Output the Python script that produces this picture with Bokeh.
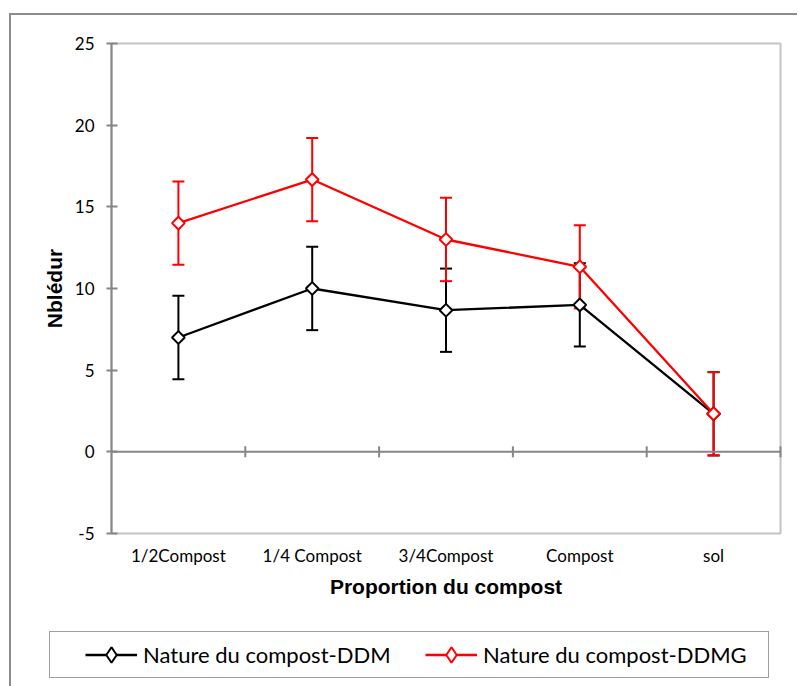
import math

from bokeh.plotting import figure
from bokeh.models import (Range1d, FixedTicker, Whisker, TeeHead,
                          ColumnDataSource, Legend, LegendItem)
from bokeh.embed import file_html
from bokeh.resources import INLINE

# ---- data -------------------------------------------------------------
categories = ["1/2Compost", "1/4 Compost", "3/4Compost", "Compost", "sol"]

ddm_mean = [7.0, 10.0, 8.67, 9.0, 2.33]
ddm_err = [2.55, 2.55, 2.55, 2.55, 2.55]

ddmg_mean = [14.0, 16.67, 13.0, 11.33, 2.33]
ddmg_err = [2.55, 2.55, 2.55, 2.55, 2.55]

series_labels = ["Nature du compost-DDM", "Nature du compost-DDMG"]
y_ticks = [-5, 0, 5, 10, 15, 20, 25]

# ---- styles / geometry -------------------------------------------------
TICK_FONT = "Lato"
TITLE_FONT = "Liberation Sans"
AXIS_GREY = "#868686"
FRAME_GREY = "#c4c4c4"

W, H = 786, 671                      # drawing surface
AREA_LEFT, AREA_TOP = 100, 28        # plot area offset inside the surface
AREA_W, AREA_H = 669, 490            # plot area size

n = len(categories)
ymin, ymax = y_ticks[0], y_ticks[-1]
xs = [i + 0.5 for i in range(n)]          # category centres
bounds = [i + 1 for i in range(n)]        # category boundaries

# ranges chosen so that [0, n] x [ymin, ymax] maps onto the plot area
px_x = AREA_W / n
px_y = AREA_H / (ymax - ymin)
x_range = Range1d(-AREA_LEFT / px_x, (W - AREA_LEFT) / px_x)
y_range = Range1d(ymax - (H - AREA_TOP) / px_y, ymax + AREA_TOP / px_y)

p = figure(
    frame_width=W, frame_height=H,
    min_border_left=0, min_border_right=0, min_border_top=0, min_border_bottom=0,
    x_range=x_range, y_range=y_range,
    output_backend="svg", toolbar_location=None,
    background_fill_color="white", border_fill_color="white",
)
p.margin = (13, 0, 0, 9)
p.styles = {"border-left": "2px solid #8c8c8c", "border-top": "2px solid #8c8c8c"}
p.grid.visible = False
p.outline_line_color = None

# plot area border
p.quad(left=[0], right=[n], bottom=[ymin], top=[ymax],
       fill_color=None, line_color=FRAME_GREY, line_width=2)

# y axis at x = 0
ya = p.yaxis[0]
ya.fixed_location = 0
ya.bounds = (ymin, ymax)
ya.ticker = FixedTicker(ticks=y_ticks)
ya.major_label_overrides = {t: str(t) for t in y_ticks}
ya.axis_line_color = AXIS_GREY
ya.axis_line_width = 2
ya.major_tick_line_color = AXIS_GREY
ya.major_tick_line_width = 2
ya.major_tick_in = 6
ya.major_tick_out = 5
ya.minor_tick_line_color = None
ya.major_label_text_font = TICK_FONT
ya.major_label_text_font_size = "17px"
ya.major_label_text_color = "black"
ya.major_label_standoff = 12
ya.axis_label = "Nblédur"
ya.axis_label_text_font = TITLE_FONT
ya.axis_label_text_font_style = "bold"
ya.axis_label_text_font_size = "21px"
ya.axis_label_text_color = "black"
ya.axis_label_standoff = 6

# category labels along the bottom of the plot area
xa = p.xaxis[0]
xa.fixed_location = ymin
xa.bounds = (0, n)
xa.ticker = FixedTicker(ticks=xs)
xa.major_label_overrides = {x: c for x, c in zip(xs, categories)}
xa.axis_line_color = None
xa.major_tick_line_color = None
xa.minor_tick_line_color = None
xa.major_label_text_font = TICK_FONT
xa.major_label_text_font_size = "17px"
xa.major_label_text_color = "black"
xa.major_label_standoff = 5
xa.axis_label = "Proportion du compost"
xa.axis_label_text_font = TITLE_FONT
xa.axis_label_text_font_style = "bold"
xa.axis_label_text_font_size = "21px"
xa.axis_label_text_color = "black"
xa.axis_label_standoff = 6

# horizontal axis line at zero with category boundary ticks
p.segment(x0=[0], y0=[0], x1=[n], y1=[0], line_color=AXIS_GREY, line_width=2)
half_tick = 5.5 / px_y
p.segment(x0=bounds, y0=[-half_tick] * n, x1=bounds, y1=[half_tick] * n,
          line_color=AXIS_GREY, line_width=2)


def add_series(mean, err, color):
    src = ColumnDataSource(dict(
        x=xs, y=mean,
        upper=[m + e for m, e in zip(mean, err)],
        lower=[m - e for m, e in zip(mean, err)],
    ))
    w = Whisker(source=src, base="x", upper="upper", lower="lower",
                line_color=color, line_width=2,
                upper_head=TeeHead(size=12, line_color=color, line_width=2),
                lower_head=TeeHead(size=12, line_color=color, line_width=2))
    p.add_layout(w)
    ln = p.line("x", "y", source=src, line_color=color, line_width=2.3)
    # small diamond kept under the point markers; it provides the legend swatch
    key = p.scatter("x", "y", source=src, marker="diamond", size=7,
                    fill_color="white", line_color=color, line_width=2)
    p.scatter("x", "y", source=src, marker="square", angle=math.pi / 4, size=9,
              fill_color="white", line_color=color, line_width=2)
    return [ln, key]


r_ddm = add_series(ddm_mean, ddm_err, "black")
r_ddmg = add_series(ddmg_mean, ddmg_err, "#ff0000")

legend = Legend(
    items=[LegendItem(label=series_labels[0], renderers=r_ddm),
           LegendItem(label=series_labels[1], renderers=r_ddmg)],
    orientation="horizontal",
    location=(38, 8),
    margin=0, padding=3, spacing=0,
    glyph_width=52, glyph_height=39, label_standoff=6, label_width=282,
    label_text_font=TICK_FONT, label_text_font_size="22px", label_text_color="black",
    border_line_color="#3f3f3f", border_line_width=1.5,
    background_fill_color="white", background_fill_alpha=1,
    title=" ", title_location="left", title_text_font_size="10px", title_standoff=21,
)
p.add_layout(legend, "center")

open("out.html", "w").write(file_html(p, INLINE))
